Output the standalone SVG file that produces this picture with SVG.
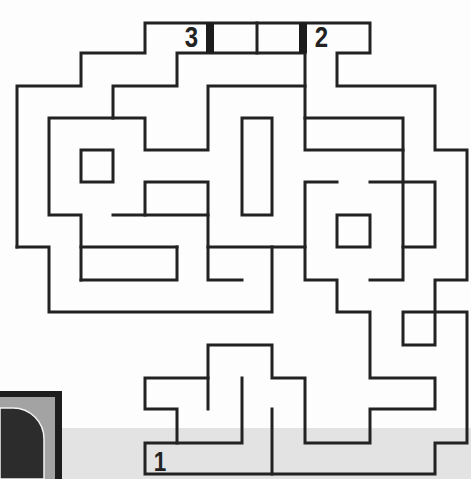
<svg xmlns="http://www.w3.org/2000/svg" width="471" height="479" viewBox="0 0 471 479">
  <style>
    .w { fill: none; stroke: #222; stroke-width: 3; stroke-linejoin: miter; stroke-linecap: square; }
    .bar { fill: #1c1c1c; }
    .num { font-family: "Liberation Sans", Arial, sans-serif; font-weight: bold; font-size: 30px; fill: #222; text-anchor: middle; }
  </style>
  <rect x="0" y="0" width="471" height="479" fill="#fdfdfd"/>
  <g id="background">
    <rect x="62" y="428" width="409" height="51" fill="#e3e3e3"/>
    <rect x="0" y="391" width="62" height="88" fill="#1e1e1e"/>
    <rect x="0" y="397" width="55" height="82" fill="#a3a3a3"/>
    <path d="M0,408 H13 A31 31 0 0 1 44 439 V479 H0 Z" fill="#2c2c2c" stroke="#f2f2f2" stroke-width="1.5"/>
  </g>
  <g id="walls">
    <!-- outer wall -->
    <polyline class="w" points="17,247 17,86 81,86 81,53 145,53 145,23 370,23 370,53 337,53 337,86 435,86 435,150 467,150 467,280 435,280 435,345 403,345 403,312 467,312 467,443 435,443 435,474 145,474 145,443 242,443 242,378"/>
    <polyline class="w" points="17,247 49,247 49,312 272,312 272,247"/>
    <!-- top corridor -->
    <polyline class="w" points="305,53 177,53 177,86 113,86 113,118"/>
    <polyline class="w" points="81,280 81,215 49,215 49,118 145,118 145,150 208,150 208,86 305,86"/>
    <line class="w" x1="81" y1="247" x2="177" y2="247"/>
    <polyline class="w" points="81,280 177,280 177,247"/>
    <rect class="w" x="81" y="150" width="32" height="32"/>
    <rect class="w" x="242" y="118" width="30" height="97"/>
    <!-- right centre -->
    <polyline class="w" points="305,53 305,150 403,150"/>
    <polyline class="w" points="305,118 403,118 403,280 370,280"/>
    <polyline class="w" points="403,247 435,247 435,182 370,182"/>
    <rect class="w" x="337" y="215" width="33" height="32"/>
    <!-- centre -->
    <line class="w" x1="113" y1="215" x2="208" y2="215"/>
    <polyline class="w" points="145,215 145,182 208,182 208,280 242,280"/>
    <line class="w" x1="208" y1="247" x2="305" y2="247"/>
    <polyline class="w" points="337,182 305,182 305,280 337,280 337,312 370,312 370,378 435,378 435,409 370,409 370,443 305,443 305,378 272,378 272,345 208,345 208,409"/>
    <!-- bottom -->
    <polyline class="w" points="208,378 145,378 145,409 177,409 177,443"/>
    <line class="w" x1="272" y1="409" x2="272" y2="474"/>
  </g>
  <g id="gates">
    <rect class="bar" x="206" y="23" width="8" height="30"/>
    <rect class="bar" x="299" y="23" width="8" height="30"/>
    <line class="w" x1="257" y1="23" x2="257" y2="53"/>
  </g>
  <g id="labels">
    <text class="num" transform="translate(191.5,47) scale(0.8,1)">3</text>
    <text class="num" transform="translate(321.5,47) scale(0.8,1)">2</text>
    <text class="num" transform="translate(160,471) scale(0.75,0.9)">1</text>
  </g>
</svg>
